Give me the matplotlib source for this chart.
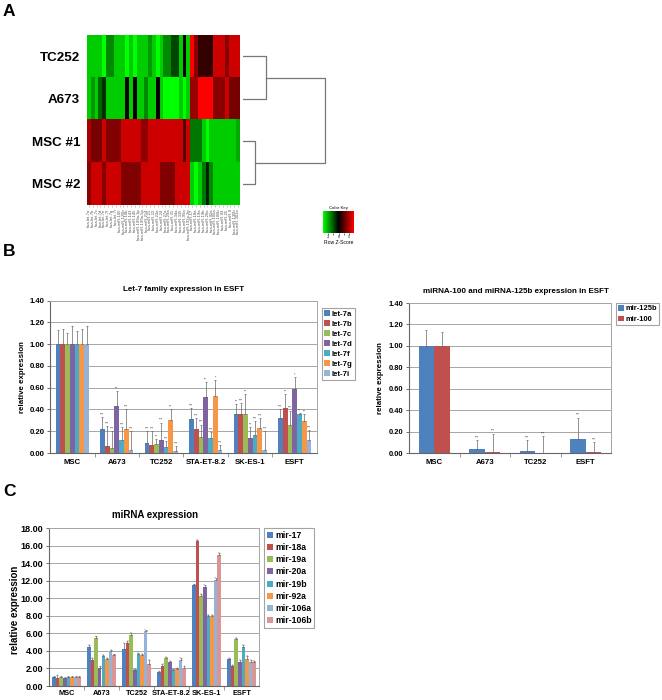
import numpy as np
import matplotlib
matplotlib.use("Agg")
import matplotlib.pyplot as plt
from matplotlib.colors import LinearSegmentedColormap

plt.rcParams['font.family'] = ['Liberation Sans', 'DejaVu Sans']
plt.rcParams['font.weight'] = 'bold'

# ---------------- Panel A data ----------------
heat_rows = ["TC252", "A673", "MSC #1", "MSC #2"]
heat_cols = ["hsa-let-7a", "hsa-let-7b", "hsa-let-7c", "hsa-let-7d", "hsa-let-7e", "hsa-let-7f",
             "hsa-let-7g", "hsa-let-7i", "hsa-miR-100", "hsa-miR-125b", "hsa-miR-10b", "hsa-miR-143",
             "hsa-miR-145", "hsa-miR-199a-3p", "hsa-miR-199a-5p", "hsa-miR-214", "hsa-miR-21",
             "hsa-miR-22", "hsa-miR-23a", "hsa-miR-24", "hsa-miR-27a", "hsa-miR-29a", "hsa-miR-31",
             "hsa-miR-34a", "hsa-miR-335", "hsa-miR-99a", "hsa-miR-193a-3p", "hsa-miR-17",
             "hsa-miR-18a", "hsa-miR-19a", "hsa-miR-19b", "hsa-miR-20a", "hsa-miR-92a",
             "hsa-miR-106a", "hsa-miR-106b", "hsa-miR-93", "hsa-miR-25", "hsa-miR-9",
             "hsa-miR-130b", "hsa-miR-301a"]
z_tc252 = [-1.2, -1.2, -1.2, -1.2, -1.5, -0.8, -0.8, -1.2, -1.2, -1.2, -1.5, -1.2, -1.5, -1.2, -1.2,
           -1.2, -0.9, -1.2, -1.5, -1.2, -0.8, -0.8, -0.4, -0.4, -1.2, 0.0, -1.2, 1.5, 0.8, 0.3,
           0.3, 0.3, 0.3, 1.2, 1.2, 1.2, 0.8, 1.2, 1.2, 1.2]
z_a673 = [-1.2, -0.9, -1.2, -0.6, -0.3, -1.2, -1.2, -1.2, -1.2, -1.2, 0.0, -1.2, 0.0, -1.2, -1.2,
          -0.8, -1.2, -1.2, 0.0, -1.2, -1.5, -1.5, -1.5, -1.5, -1.2, -1.5, -1.2, 0.9, 0.9, 1.5,
          1.5, 1.5, 1.5, 0.8, 0.8, 0.8, 1.2, 0.7, 0.7, 0.7]
z_msc1 = [1.0, 0.7, 0.7, 0.7, 1.2, 0.75, 0.75, 0.75, 0.75, 1.2, 1.2, 1.2, 1.2, 1.2, 0.85, 0.85,
          1.2, 1.2, 1.2, 1.2, 1.2, 1.2, 1.2, 1.2, 1.2, 0.5, 1.2, -0.7, -0.7, -0.7, -1.2, -1.5,
          -1.2, -1.2, -1.2, -1.2, -1.2, -1.2, -1.2, -1.0]
z_msc2 = [0.8, 1.2, 1.2, 1.2, 0.8, 1.2, 1.2, 1.2, 1.2, 0.75, 0.75, 0.75, 0.75, 0.75, 1.2, 1.2,
          1.2, 1.2, 1.2, 0.75, 0.75, 0.75, 0.75, 1.2, 1.2, 1.2, 1.2, -1.2, -1.5, -1.2, -0.7, -0.2,
          -0.8, -1.2, -1.2, -1.2, -1.2, -1.2, -1.2, -1.2]
# dendrogram merge heights: (TC252, A673), (MSC #1, MSC #2), root
merge_heights = [2.64, 1.38, 9.43]

# ---------------- Panel B data ----------------
let7_groups = ["MSC", "A673", "TC252", "STA-ET-8.2", "SK-ES-1", "ESFT"]
let7_series = ["let-7a", "let-7b", "let-7c", "let-7d", "let-7f", "let-7g", "let-7i"]
let7a = [1.00, 0.22, 0.09, 0.315, 0.36, 0.32]
let7b = [1.00, 0.065, 0.075, 0.22, 0.36, 0.41]
let7c = [1.00, 0.05, 0.085, 0.15, 0.36, 0.26]
let7d = [1.00, 0.43, 0.12, 0.515, 0.14, 0.59]
let7f = [1.00, 0.12, 0.055, 0.14, 0.165, 0.36]
let7g = [1.00, 0.225, 0.305, 0.525, 0.23, 0.29]
let7i = [1.00, 0.03, 0.02, 0.03, 0.025, 0.12]
let7a_err = [0.13, 0.11, 0.11, 0.095, 0.09, 0.08]
let7b_err = [0.14, 0.185, 0.125, 0.10, 0.10, 0.13]
let7c_err = [0.10, 0.15, 0.045, 0.11, 0.18, 0.13]
let7d_err = [0.17, 0.14, 0.16, 0.135, 0.10, 0.11]
let7f_err = [0.12, 0.12, 0.055, 0.05, 0.125, 0.01]
let7g_err = [0.14, 0.175, 0.095, 0.145, 0.09, 0.07]
let7i_err = [0.17, 0.17, 0.04, 0.04, 0.175, 0.09]
let7a_sig = ["", "***", "***", "***", "**", "***"]
let7b_sig = ["", "***", "***", "***", "***", "**"]
let7c_sig = ["", "***", "**", "***", "**", "***"]
let7d_sig = ["", "**", "***", "**", "**", "*"]
let7f_sig = ["", "***", "***", "***", "***", "**"]
let7g_sig = ["", "***", "**", "*", "***", "**"]
let7i_sig = ["", "***", "***", "***", "***", "***"]

mir_groups = ["MSC", "A673", "TC252", "ESFT"]
mir_series = ["mir-125b", "mir-100"]
mir125b = [1.00, 0.04, 0.02, 0.135]
mir100 = [1.00, 0.012, 0.0, 0.01]
mir125b_err = [0.15, 0.08, 0.10, 0.195]
mir100_err = [0.13, 0.17, 0.16, 0.09]
mir125b_sig = ["", "***", "***", "***"]
mir100_sig = ["", "***", "***", "***"]

# ---------------- Panel C data ----------------
c_groups = ["MSC", "A673", "TC252", "STA-ET-8.2", "SK-ES-1", "ESFT"]
c_series = ["mir-17", "mir-18a", "mir-19a", "mir-20a", "mir-19b", "mir-92a", "mir-106a", "mir-106b"]
mir17 = [1.0, 4.5, 4.25, 1.6, 11.5, 3.05]
mir18a = [0.95, 2.95, 4.95, 2.3, 16.5, 2.25]
mir19a = [1.0, 5.45, 5.8, 3.15, 10.3, 5.35]
mir20a = [0.95, 2.1, 1.8, 2.7, 11.3, 2.7]
mir19b = [1.0, 3.4, 3.6, 1.8, 8.0, 4.5]
mir92a = [1.0, 3.05, 3.55, 1.95, 8.0, 3.1]
mir106a = [1.0, 3.95, 6.3, 3.0, 12.1, 2.7]
mir106b = [1.0, 3.5, 2.55, 2.05, 15.0, 2.7]
mir17_err = [0.1, 0.15, 0.7, 0.1, 0.1, 0.2]
mir18a_err = [0.3, 0.3, 0.2, 0.2, 0.2, 0.15]
mir19a_err = [0.15, 0.2, 0.25, 0.2, 0.2, 0.15]
mir20a_err = [0.1, 0.15, 0.1, 0.2, 0.2, 0.3]
mir19b_err = [0.15, 0.15, 0.15, 0.1, 0.15, 0.2]
mir92a_err = [0.15, 0.2, 0.15, 0.15, 0.1, 0.3]
mir106a_err = [0.15, 0.2, 0.1, 0.25, 0.2, 0.3]
mir106b_err = [0.15, 0.1, 0.4, 0.25, 0.2, 0.2]
mir17_sig = ["", "**", "*", "*", "***", "**"]
mir18a_sig = ["*", "***", "**", "**", "***", "**"]
mir19a_sig = ["", "***", "***", "**", "**", "***"]
mir20a_sig = ["", "*", "***", "**", "***", "**"]
mir19b_sig = ["", "***", "**", "**", "***", "**"]
mir92a_sig = ["", "***", "**", "*", "***", "***"]
mir106a_sig = ["", "**", "***", "***", "***", "**"]
mir106b_sig = ["", "***", "**", "*", "***", "***"]

colors8 = ["#4F81BD", "#C0504D", "#9BBB59", "#8064A2", "#4BACC6", "#F79646", "#95B3D7", "#D99694"]
let7_colors = ["#4F81BD", "#C0504D", "#9BBB59", "#8064A2", "#4BACC6", "#F79646", "#95B3D7"]

W, H = 662, 700
fig = plt.figure(figsize=(W / 100, H / 100), dpi=100)


def rect(x0, y0, x1, y1):
    return [x0 / W, 1 - y1 / H, (x1 - x0) / W, (y1 - y0) / H]


# ---------------- Panel A ----------------
cmap = LinearSegmentedColormap.from_list("gbr", ["#00ff00", "#000000", "#ff0000"], N=256)
Z = np.array([z_tc252, z_a673, z_msc1, z_msc2])
axh = fig.add_axes(rect(87, 35, 240, 205))
axh.imshow(Z, cmap=cmap, vmin=-1.5, vmax=1.5, aspect='auto', interpolation='nearest')
axh.set_yticks(range(len(heat_rows)))
axh.set_yticklabels(heat_rows, fontsize=9.6, fontweight='bold')
axh.tick_params(axis='y', length=0, pad=5)
axh.set_xticks(range(len(heat_cols)))
axh.set_xticklabels(heat_cols, rotation=90, fontsize=3.0, color='#555555', fontweight='normal')
axh.tick_params(axis='x', length=1.5, width=0.4, color='#999999', pad=1)
for s in axh.spines.values():
    s.set_visible(False)

axd = fig.add_axes(rect(243, 35, 330, 205))
axd.set_xlim(0, 10)
axd.set_ylim(4, 0)
axd.axis('off')
h1, h2, h3 = merge_heights
dc = dict(color='#777777', lw=0.9)
axd.plot([0, h1, h1, 0], [0.5, 0.5, 1.5, 1.5], **dc)
axd.plot([0, h2, h2, 0], [2.5, 2.5, 3.5, 3.5], **dc)
axd.plot([h1, h3, h3, h2], [1.0, 1.0, 3.0, 3.0], **dc)

axk = fig.add_axes(rect(323, 211, 354, 233))
grad = np.linspace(-1.5, 1.5, 256)[None, :]
axk.imshow(grad, cmap=cmap, vmin=-1.5, vmax=1.5, aspect='auto', extent=(-1.5, 1.5, 0, 1))
axk.set_yticks([])
axk.set_xticks([-1, -0.5, 0, 0.5, 1])
axk.set_xticklabels(["-1", "", "0", "", "1"], fontsize=2.5, fontweight='normal')
axk.tick_params(axis='x', length=1.2, width=0.4, pad=0.5)
axk.set_title("Color Key", fontsize=3.2, fontweight='normal', pad=1.5)
axk.set_xlabel("Row Z-Score", fontsize=3.6, fontweight='normal', labelpad=0.5)
for s in axk.spines.values():
    s.set_visible(False)


# ---------------- bar helper ----------------
def bar_chart(ax, groups, names, vals, errs, sigs, cols, gw, sig_fs, sig_off):
    n = len(names)
    x = np.arange(len(groups))
    w = gw / n
    for i in range(n):
        off = x - gw / 2 + w * (i + 0.5)
        v = np.array(vals[i], dtype=float)
        e = np.array(errs[i], dtype=float)
        ax.bar(off, v, w, color=cols[i], label=names[i], zorder=2, linewidth=0)
        ax.errorbar(off, v, yerr=[np.zeros_like(e), e], fmt='none', ecolor='#666666',
                    elinewidth=0.5, capsize=0.9, capthick=0.5, zorder=3)
        for xx, vv, ee, ss in zip(off, v, e, sigs[i]):
            if ss:
                ax.text(xx, vv + ee + sig_off, ss, ha='center', va='bottom', fontsize=sig_fs,
                        fontweight='normal', color='#333333')
    ax.set_xlim(-0.5, len(groups) - 0.5)
    ax.set_xticks(x)
    ax.set_xticklabels(groups)
    ax.set_xticks(np.arange(len(groups) - 1) + 0.5, minor=True)
    ax.tick_params(axis='x', which='major', length=0, pad=4)
    ax.tick_params(axis='x', which='minor', length=3, width=0.6, color='#888888', direction='out')
    ax.tick_params(axis='y', length=2, width=0.6, color='#555555', pad=2)
    ax.grid(axis='y', color='#a6a6a6', lw=0.7)
    ax.set_axisbelow(True)
    for k in ['top', 'right']:
        ax.spines[k].set_color('#a6a6a6')
        ax.spines[k].set_linewidth(0.7)
    for k in ['left', 'bottom']:
        ax.spines[k].set_color('#666666')
        ax.spines[k].set_linewidth(0.8)


def legend_at(ax, x0, y0, fs, spacing):
    leg = ax.legend(loc='upper left', bbox_to_anchor=(x0 / W, 1 - y0 / H),
                    bbox_transform=fig.transFigure, fontsize=fs, frameon=True, fancybox=False,
                    handlelength=0.7, handleheight=0.7, handletextpad=0.28, labelspacing=spacing,
                    borderpad=0.3, borderaxespad=0)
    leg.get_frame().set_edgecolor('#8c8c8c')
    leg.get_frame().set_linewidth(0.8)
    for t in leg.get_texts():
        t.set_fontweight('bold')
    return leg


# ---------------- Panel B left ----------------
ax1 = fig.add_axes(rect(50, 300.7, 317, 453))
bar_chart(ax1, let7_groups, let7_series,
          [let7a, let7b, let7c, let7d, let7f, let7g, let7i],
          [let7a_err, let7b_err, let7c_err, let7d_err, let7f_err, let7g_err, let7i_err],
          [let7a_sig, let7b_sig, let7c_sig, let7d_sig, let7f_sig, let7g_sig, let7i_sig],
          let7_colors, 0.75, 2.5, 0.005)
ax1.set_ylim(0, 1.4)
ax1.set_yticks(np.arange(0, 1.41, 0.2))
ax1.set_yticklabels([f"{t:.2f}" for t in np.arange(0, 1.41, 0.2)], fontsize=5.6)
for t in ax1.get_xticklabels():
    t.set_fontsize(5.6)
legend_at(ax1, 322, 308, 5.6, 0.33)
fig.text(183.5 / W, 1 - 289.3 / H, "Let-7 family expression in ESFT", ha='center', va='center',
         fontsize=5.8, fontweight='bold')
fig.text(23 / W, 1 - 377 / H, "relative expression", rotation=90, ha='center', va='center',
         fontsize=5.7, fontweight='bold')

# ---------------- Panel B right ----------------
ax2 = fig.add_axes(rect(409, 303, 611, 453))
bar_chart(ax2, mir_groups, mir_series, [mir125b, mir100], [mir125b_err, mir100_err],
          [mir125b_sig, mir100_sig], ["#4F81BD", "#C0504D"], 0.62, 2.5, 0.005)
ax2.set_ylim(0, 1.4)
ax2.set_yticks(np.arange(0, 1.41, 0.2))
ax2.set_yticklabels([f"{t:.2f}" for t in np.arange(0, 1.41, 0.2)], fontsize=5.4)
for t in ax2.get_xticklabels():
    t.set_fontsize(5.6)
legend_at(ax2, 616, 303, 5.4, 0.4)
fig.text(516 / W, 1 - 291.7 / H, "miRNA-100 and miRNA-125b expression in ESFT", ha='center',
         va='center', fontsize=5.8, fontweight='bold')
fig.text(380 / W, 1 - 378 / H, "relative expression", rotation=90, ha='center', va='center',
         fontsize=5.7, fontweight='bold')

# ---------------- Panel C ----------------
ax3 = fig.add_axes(rect(49, 528.3, 259, 686))
bar_chart(ax3, c_groups, c_series,
          [mir17, mir18a, mir19a, mir20a, mir19b, mir92a, mir106a, mir106b],
          [mir17_err, mir18a_err, mir19a_err, mir20a_err, mir19b_err, mir92a_err, mir106a_err,
           mir106b_err],
          [mir17_sig, mir18a_sig, mir19a_sig, mir20a_sig, mir19b_sig, mir92a_sig, mir106a_sig,
           mir106b_sig],
          colors8, 0.83, 1.6, 0.05)
ax3.set_ylim(0, 18)
ax3.set_yticks(np.arange(0, 18.1, 2))
ax3.set_yticklabels([f"{t:.2f}" for t in np.arange(0, 18.1, 2)], fontsize=6.5)
for t in ax3.get_xticklabels():
    t.set_fontsize(5.3)
ax3.tick_params(axis='x', which='major', pad=3)
legend_at(ax3, 264, 528, 6.2, 0.38)
fig.text(155 / W, 1 - 515 / H, "miRNA expression", ha='center', va='center',
         fontsize=7, fontweight='bold')
fig.text(15 / W, 1 - 610 / H, "relative expression", rotation=90, ha='center', va='center',
         fontsize=7, fontweight='bold')

# panel letters
for letter, yc in [("A", 12), ("B", 252), ("C", 491)]:
    fig.text(3 / W, 1 - yc / H, letter, ha='left', va='center', fontsize=12.5, fontweight='bold')

fig.savefig("out.png", dpi=100)
